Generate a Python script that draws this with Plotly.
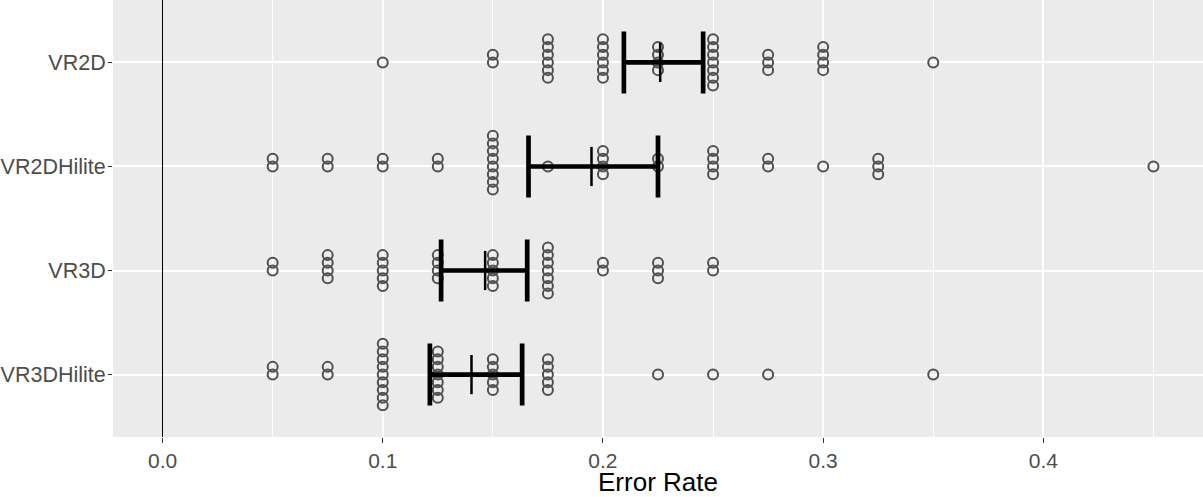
import numpy as np
import plotly.graph_objects as go

# groups, top to bottom
groups = ["VR2D", "VR2DHilite", "VR3D", "VR3DHilite"]
group_pos = [4, 3, 2, 1]

# error rates seen per group and how many participants had each one
vr2d_rate = [0.1, 0.15, 0.175, 0.2, 0.225, 0.25, 0.275, 0.3, 0.35]
vr2d_count = [1, 2, 6, 6, 4, 7, 3, 4, 1]
vr2dh_rate = [0.05, 0.075, 0.1, 0.125, 0.15, 0.175, 0.2, 0.225, 0.25, 0.275, 0.3, 0.325, 0.45]
vr2dh_count = [2, 2, 2, 2, 8, 1, 4, 2, 4, 2, 1, 3, 1]
vr3d_rate = [0.05, 0.075, 0.1, 0.125, 0.15, 0.175, 0.2, 0.225, 0.25]
vr3d_count = [2, 4, 5, 4, 5, 7, 2, 3, 2]
vr3dh_rate = [0.05, 0.075, 0.1, 0.125, 0.15, 0.175, 0.225, 0.25, 0.275, 0.35]
vr3dh_count = [2, 2, 9, 7, 5, 5, 1, 1, 1, 1]

# mean and 95% CI per group
means = [0.226, 0.1948, 0.1465, 0.1403]
ci_lo = [0.2095, 0.1662, 0.1265, 0.1214]
ci_hi = [0.2455, 0.225, 0.1656, 0.1633]

rates = [vr2d_rate, vr2dh_rate, vr3d_rate, vr3dh_rate]
counts = [vr2d_count, vr2dh_count, vr3d_count, vr3dh_count]

stack_step = 0.074  # dot stacking step in category units

fig = go.Figure()

# dots, stacked "centerwhole" like geom_dotplot
for pos, rr, cc in zip(group_pos, rates, counts):
    xs, ys = [], []
    for r, n in zip(rr, cc):
        k = np.arange(n)
        off = k - (n - 1) // 2
        xs += [r] * n
        ys += list(pos + off * stack_step)
    fig.add_trace(go.Scatter(x=xs, y=ys, mode='markers',
                             marker=dict(symbol='circle-open', size=10,
                                         color='#505050',
                                         line=dict(width=2, color='#505050')),
                             showlegend=False, hoverinfo='skip'))

# CI bars
m = np.array(means)
fig.add_trace(go.Scatter(x=means, y=group_pos, mode='markers',
                         marker=dict(size=1, color='rgba(0,0,0,0)'),
                         error_x=dict(type='data', symmetric=False,
                                      array=list(np.array(ci_hi) - m),
                                      arrayminus=list(m - np.array(ci_lo)),
                                      color='black', thickness=4.7, width=31),
                         showlegend=False, hoverinfo='skip'))

# mean ticks
fig.add_trace(go.Scatter(x=means, y=group_pos, mode='markers',
                         marker=dict(symbol='line-ns-open', size=28, color='black',
                                     line=dict(width=2.5, color='black')),
                         showlegend=False, hoverinfo='skip'))

fig.update_xaxes(range=[-0.0225, 0.4725], tick0=0, dtick=0.1, tickformat='.1f',
                 showgrid=True, gridcolor='white', gridwidth=2,
                 minor=dict(dtick=0.05, tick0=0, showgrid=True, gridcolor='white', gridwidth=1),
                 zeroline=True, zerolinecolor='black', zerolinewidth=1.2,
                 ticks='outside', ticklen=5, tickcolor='#333333', tickwidth=1,
                 tickfont=dict(family='Liberation Sans', size=21, color='#4D4D4D'),
                 title=dict(text='Error Rate', standoff=14,
                            font=dict(family='Liberation Sans', size=26, color='black')),
                 showline=False, automargin=False)
fig.update_yaxes(range=[0.4, 4.6], tickmode='array', tickvals=group_pos, ticktext=groups,
                 showgrid=True, gridcolor='white', gridwidth=2, zeroline=False,
                 ticks='outside', ticklen=4, tickcolor='#333333', tickwidth=1,
                 ticklabelstandoff=-2,
                 tickfont=dict(family='Liberation Sans', size=21.5, color='#4D4D4D'),
                 showline=False, automargin=False)

fig.update_layout(width=1203, height=497, template='none',
                  plot_bgcolor='#EBEBEB', paper_bgcolor='white',
                  margin=dict(l=113, r=0, t=0, b=60),
                  showlegend=False)

fig.write_html("out.html", config={'displayModeBar': False},
               post_script="document.body.style.margin='0px';")
